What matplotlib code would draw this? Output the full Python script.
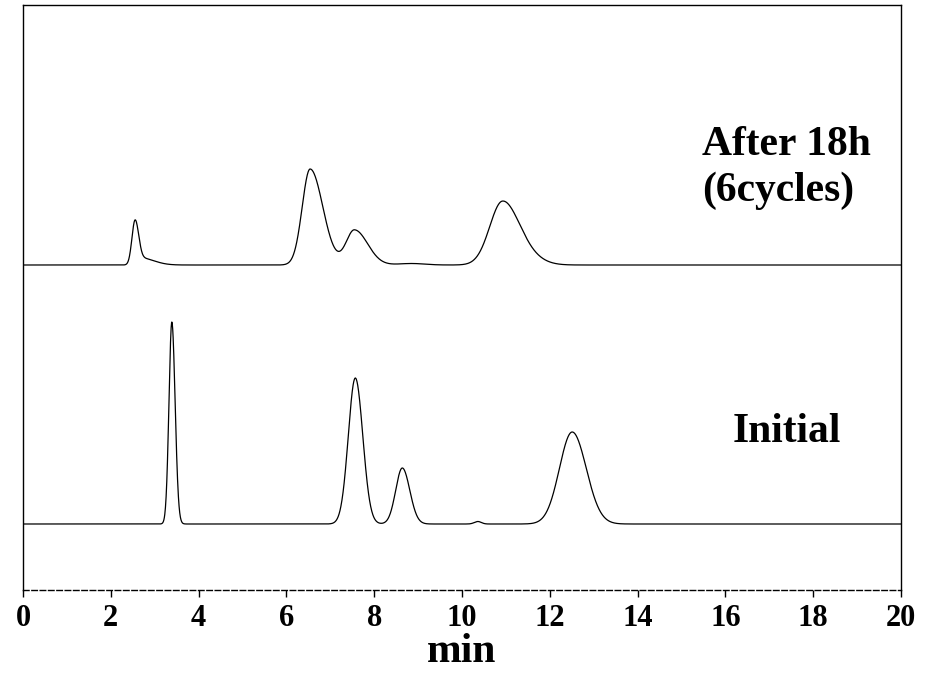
import numpy as np
import matplotlib.pyplot as plt

# retention time axis (min)
t = np.linspace(0, 20, 4001)

# peaks: centre (min), height, left sigma, right sigma
after_centres = [2.55, 2.68, 6.54, 7.55, 8.85, 10.92, 11.5]
after_heights = [42, 7, 96, 35, 1.5, 63, 6]
after_sig_left = [0.07, 0.1, 0.18, 0.19, 0.3, 0.29, 0.3]
after_sig_right = [0.08, 0.3, 0.29, 0.3, 0.3, 0.37, 0.35]

init_centres = [3.39, 7.57, 8.64, 10.36, 12.51]
init_heights = [202, 146, 56, 2.5, 92]
init_sig_left = [0.065, 0.16, 0.15, 0.08, 0.29]
init_sig_right = [0.075, 0.17, 0.17, 0.08, 0.32]

# trace baselines (vertical offsets)
after_base = 325
init_base = 66


def trace(centres, heights, sl, sr, base):
    y = np.full_like(t, base, dtype=float)
    for c, h, a, b in zip(centres, heights, sl, sr):
        s = np.where(t < c, a, b)
        y += h * np.exp(-0.5 * ((t - c) / s) ** 2)
    return y


after = trace(after_centres, after_heights, after_sig_left, after_sig_right, after_base)
initial = trace(init_centres, init_heights, init_sig_left, init_sig_right, init_base)

plt.rcParams['font.family'] = 'Liberation Serif'
plt.rcParams['font.weight'] = 'bold'

fig = plt.figure(figsize=(9.34, 6.76), dpi=100)
ax = fig.add_axes([23 / 934, 1 - 590 / 676, 878 / 934, 585 / 676])

ax.plot(t, after, color='k', lw=0.9)
ax.plot(t, initial, color='k', lw=0.9)

ax.set_xlim(0, 20)
ax.set_ylim(0, 585)
ax.set_xticks(range(0, 21, 2))
ax.set_yticks([])
ax.tick_params(axis='x', direction='out', length=5, width=1, labelsize=22, pad=5)
for lab in ax.get_xticklabels():
    lab.set_fontweight('bold')
ax.spines['bottom'].set_linestyle((0, (4, 2)))
for sp in ax.spines.values():
    sp.set_linewidth(1)

ax.set_xlabel('min', fontsize=30, fontweight='bold', labelpad=0)

ax.text(15.47, 435, 'After 18h', fontsize=30, fontweight='bold', ha='left', va='baseline')
ax.text(15.47, 389, '(6cycles)', fontsize=30, fontweight='bold', ha='left', va='baseline')
ax.text(16.17, 148, 'Initial', fontsize=30, fontweight='bold', ha='left', va='baseline')

fig.savefig('out.png', dpi=100)
